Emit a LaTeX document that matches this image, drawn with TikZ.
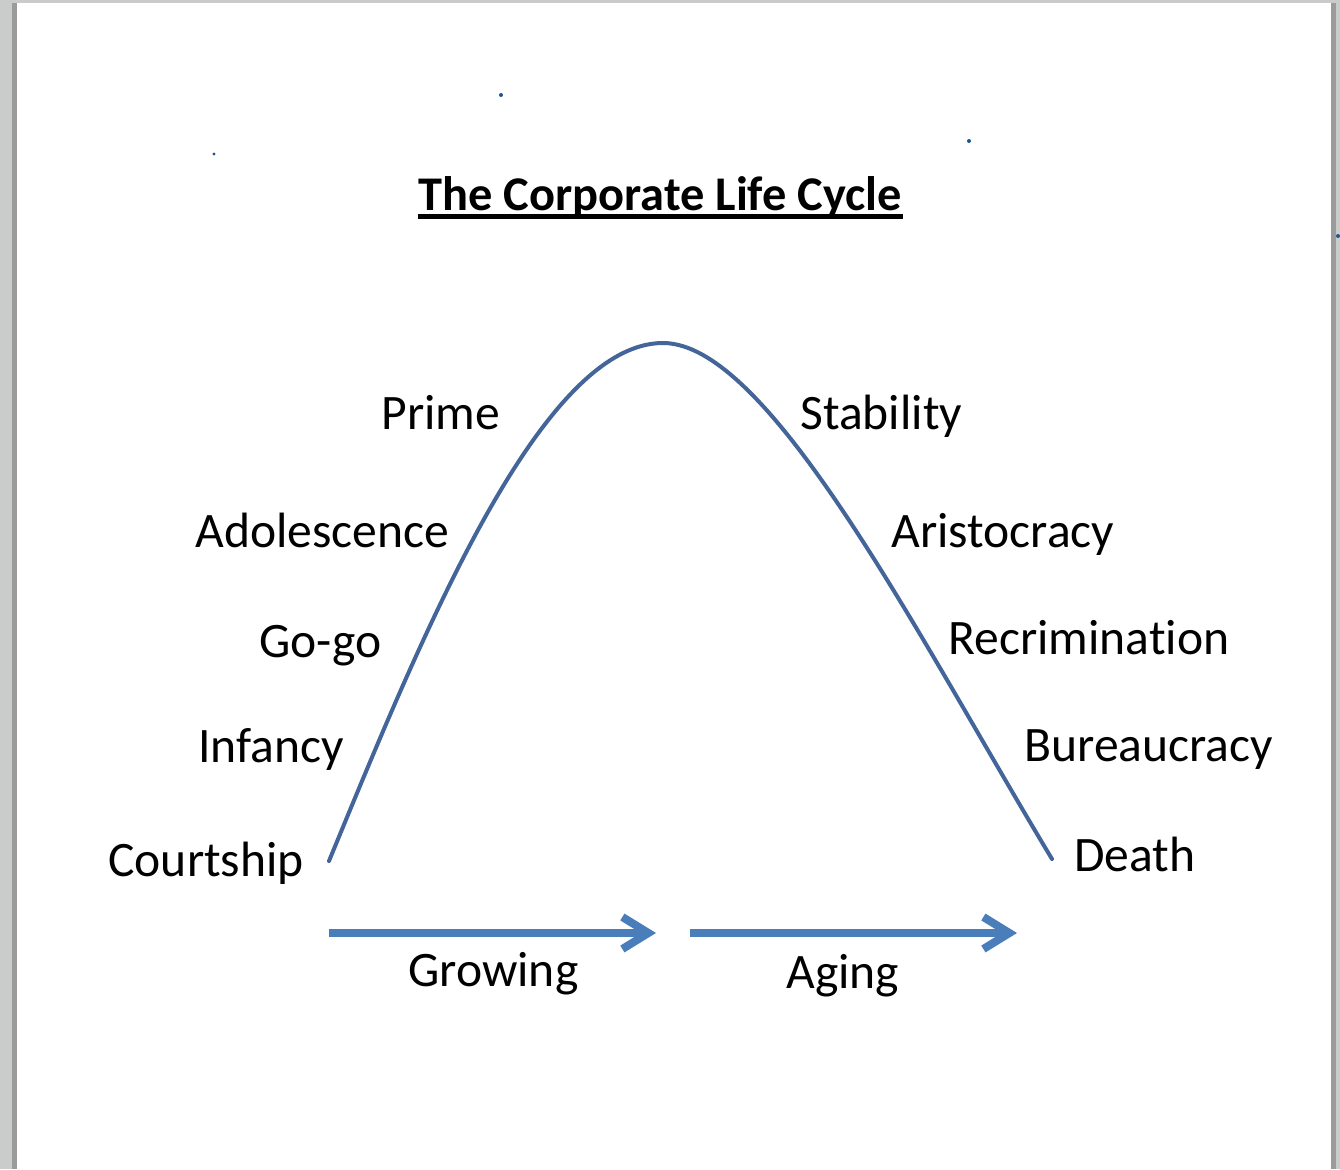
\documentclass[tikz,border=0pt]{standalone}
\usepackage{fontspec}
\setmainfont{Carlito}[Ligatures={NoCommon}]
\usetikzlibrary{arrows.meta}
\definecolor{pagegray}{HTML}{CACCCB}
\definecolor{shadowgray}{HTML}{9A9C9B}
\definecolor{curveblue}{HTML}{43659A}
\definecolor{arrowblue}{HTML}{4A7EBB}
\definecolor{dotblue}{HTML}{1F5590}
\begin{document}
\begin{tikzpicture}[x=0.5pt,y=-0.5pt,
  lbl/.style={anchor=base west, inner sep=0pt, text=black, font=\fontsize{24.8}{29}\selectfont},
  titlestyle/.style={anchor=base west, inner sep=0pt, text=black, font=\bfseries\fontsize{24.2}{29}\selectfont},
  lifecurve/.style={draw=curveblue, line width=2pt, line cap=round, line join=round},
  flow/.style={draw=arrowblue, line width=4pt, -{Straight Barb[length=13pt,width=16pt,line join=miter,line cap=butt]}},
  speck/.style={fill=dotblue}]
% page and margins
\useasboundingbox (0,0) rectangle (1340,1169);
\fill[pagegray] (0,0) rectangle (1340,1169);
\fill[shadowgray] (12,3) rectangle (17,1169);
\fill[shadowgray] (1331,3) rectangle (1336,1169);
\fill[white] (17,3) rectangle (1331,1169);
% specks
\fill[speck] (501,95) circle (2);
\fill[speck] (214,154) circle (1.6);
\fill[speck] (969,141) circle (2);
\fill[speck] (1338,236) circle (2);
% title
\node[titlestyle] (title) at (418,210) {The Corporate Life Cycle};
\draw[black, line width=2.5pt] ([yshift=-3.25pt]title.base west) -- ([yshift=-3.25pt]title.base east);
% life cycle curve
\coordinate (cstart) at (329,861);
\coordinate (cpeak) at (663,343);
\coordinate (cend) at (1052,859);
\draw[lifecurve] (cstart) .. controls (420,640) and (540,343) .. (cpeak)
                          .. controls (770,343) and (920,640) .. (cend);
% stage labels
\node[lbl] (prime) at (381,429) {Prime};
\node[lbl] (adol) at (195,547) {Adolescence};
\node[lbl] (gogo) at (259,657) {Go-go};
\node[lbl] (infancy) at (198,762) {Infancy};
\node[lbl] (courtship) at (108,876) {Courtship};
\node[lbl] (stability) at (800,429) {Stability};
\node[lbl] (aristo) at (891,547) {Aristocracy};
\node[lbl] (recrim) at (948,654) {Recrimination};
\node[lbl] (bureau) at (1024,761) {Bureaucracy};
\node[lbl] (death) at (1074,871) {Death};
% growing / aging arrows
\coordinate (g1) at (329,933);
\coordinate (g2) at (656,933);
\coordinate (a1) at (690,933);
\coordinate (a2) at (1017,933);
\draw[flow] (g1) -- (g2);
\draw[flow] (a1) -- (a2);
\node[lbl] (growing) at (408,986) {Growing};
\node[lbl] (aging) at (786,988) {Aging};
\end{tikzpicture}
\end{document}
